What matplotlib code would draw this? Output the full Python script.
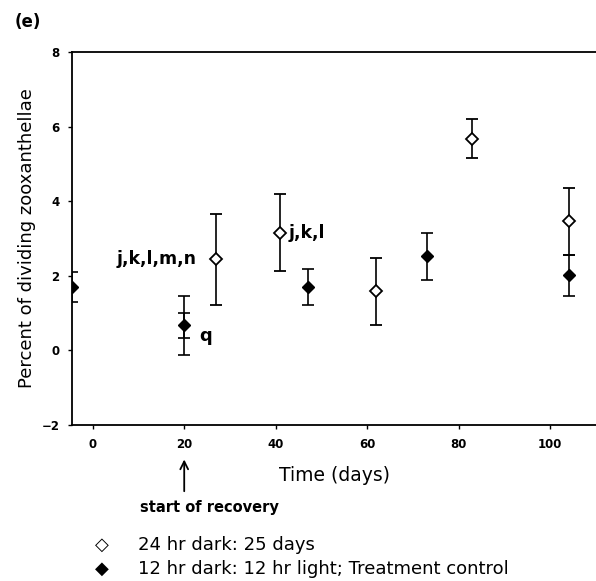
import matplotlib
matplotlib.use("Agg")
import matplotlib.pyplot as plt

plt.rcParams['font.family'] = ['DejaVu Sans']

# Data
open_days = [27, 41, 62, 83, 104]
open_vals = [2.44, 3.16, 1.58, 5.68, 3.46]
open_err = [1.23, 1.04, 0.90, 0.52, 0.90]

filled_days = [-4.5, 20, 47, 73, 104]
filled_vals = [1.70, 0.67, 1.70, 2.52, 2.01]
filled_err = [0.40, 0.80, 0.48, 0.62, 0.56]

inner_days = [20]
inner_vals = [0.67]
inner_err = [0.34]

xticks = [0, 20, 40, 60, 80, 100]
yticks = [-2, 0, 2, 4, 6, 8]

fig = plt.figure(figsize=(5.96, 5.81), dpi=100)
ax = fig.add_axes([0.121, 0.2685, 0.879, 0.642])

ekw = dict(ecolor='black', elinewidth=1.2, capsize=4, capthick=1.2, linestyle='none')
ax.errorbar(filled_days, filled_vals, yerr=filled_err, fmt='D', color='black',
            markerfacecolor='black', markersize=6, zorder=3, **ekw)
ax.errorbar(inner_days, inner_vals, yerr=inner_err, fmt='none', **ekw)
ax.errorbar(open_days, open_vals, yerr=open_err, fmt='D', color='black',
            markerfacecolor='white', markeredgewidth=1.3, markersize=6, zorder=4, **ekw)

ax.set_xlim(-4.5, 110)
ax.set_ylim(-2, 8)
ax.set_xticks(xticks)
ax.set_yticks(yticks)
ax.tick_params(axis='both', direction='out', length=3, width=1, labelsize=8.5, pad=6)
for lbl in ax.get_xticklabels() + ax.get_yticklabels():
    lbl.set_fontweight('bold')
ax.spines['right'].set_visible(False)
for s in ['left', 'bottom', 'top']:
    ax.spines[s].set_linewidth(1.3)

ax.set_ylabel('Percent of dividing zooxanthellae', fontsize=13)
ax.yaxis.set_label_coords(-0.068, 0.5)
ax.set_xlabel('Time (days)', fontsize=13.5)
ax.xaxis.set_label_coords(0.5, -0.11)

# annotations
ax.text(22.8, 2.44, 'j,k,l,m,n', fontsize=12.5, fontweight='bold', ha='right', va='center')
ax.text(42.8, 3.16, 'j,k,l', fontsize=12.5, fontweight='bold', ha='left', va='center')
ax.text(24.6, 0.38, 'q', fontsize=13, fontweight='bold', ha='center', va='center')

fig.text(0.025, 0.962, '(e)', fontsize=12, fontweight='bold', ha='left', va='center')

# start-of-recovery arrow
ax.annotate('', xy=(20, -2.85), xytext=(20, -3.85),
            xycoords='data', textcoords='data', annotation_clip=False,
            arrowprops=dict(arrowstyle='->', color='black', lw=1.3, mutation_scale=14))
fig.text(0.352, 0.127, 'start of recovery', fontsize=10.5, fontweight='bold', ha='center', va='center')

# legend
fig.text(0.171, 0.062, '\u25C7', fontsize=13, ha='center', va='center')
fig.text(0.232, 0.062, '24 hr dark: 25 days', fontsize=13, ha='left', va='center')
fig.text(0.171, 0.021, '\u25C6', fontsize=13, ha='center', va='center')
fig.text(0.232, 0.021, '12 hr dark: 12 hr light; Treatment control', fontsize=13,
         ha='left', va='center')

fig.savefig('out.png', dpi=100)
